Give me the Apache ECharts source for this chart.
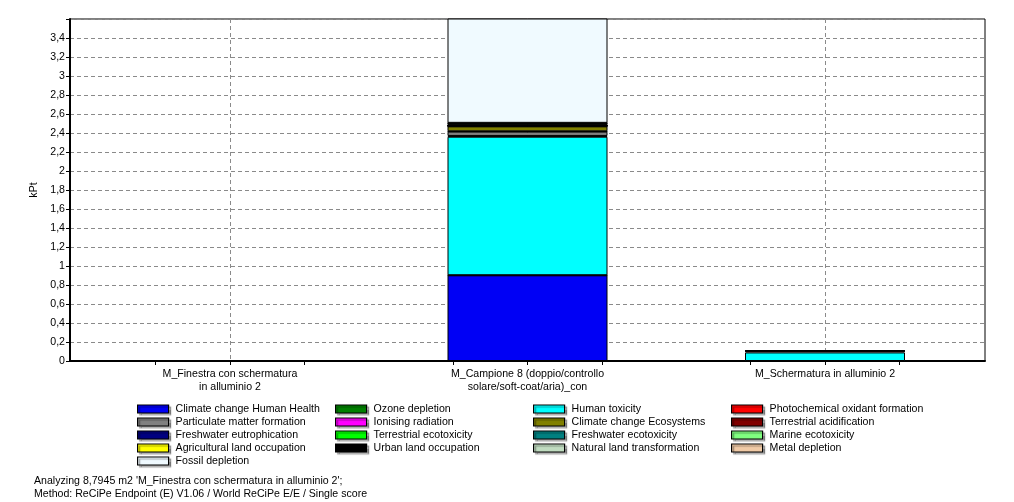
<!DOCTYPE html>
<html><head><meta charset="utf-8">
<script src="https://cdn.jsdelivr.net/npm/echarts@6/dist/echarts.min.js"></script>
<style>html,body{margin:0;padding:0;background:#fff}#c{width:1014px;height:502px}</style>
</head><body><div id="c"></div>
<script>
// ---- data ----
const categories = [
  "M_Finestra con schermatura\nin alluminio 2",
  "M_Campione 8 (doppio/controllo\nsolare/soft-coat/aria)_con",
  "M_Schermatura in alluminio 2"
];
const impactNames = [
  "Climate change Human Health", "Ozone depletion", "Human toxicity",
  "Photochemical oxidant formation", "Particulate matter formation", "Ionising radiation",
  "Climate change Ecosystems", "Terrestrial acidification", "Freshwater eutrophication",
  "Terrestrial ecotoxicity", "Freshwater ecotoxicity", "Marine ecotoxicity",
  "Agricultural land occupation", "Urban land occupation", "Natural land transformation",
  "Metal depletion", "Fossil depletion"
];
const impactColors = [
  "#0000f5", "#008000", "#00ffff", "#ff0000", "#808080", "#ff00ff",
  "#808000", "#800000", "#000080", "#00ff00", "#008080", "#80ff80",
  "#ffff00", "#000000", "#c0dcc0", "#f0caa6", "#f0faff"
];
// values in kPt for the three products
const climateChangeHumanHealth = [0, 0.902, 0];
const ozoneDepletion = [0, 0.001, 0];
const humanToxicity = [0, 1.458, 0.09];
const photochemicalOxidantFormation = [0, 0.008, 0.02];
const particulateMatterFormation = [0, 0.045, 0];
const ionisingRadiation = [0, 0.004, 0];
const climateChangeEcosystems = [0, 0.052, 0];
const terrestrialAcidification = [0, 0.003, 0];
const freshwaterEutrophication = [0, 0.002, 0];
const terrestrialEcotoxicity = [0, 0.001, 0];
const freshwaterEcotoxicity = [0, 0.002, 0];
const marineEcotoxicity = [0, 0.002, 0];
const agriculturalLandOccupation = [0, 0.003, 0];
const urbanLandOccupation = [0, 0.018, 0];
const naturalLandTransformation = [0, 0.002, 0];
const metalDepletion = [0, 0.004, 0];
const fossilDepletion = [0, 1.2, 0];
const impactValues = [
  climateChangeHumanHealth, ozoneDepletion, humanToxicity, photochemicalOxidantFormation,
  particulateMatterFormation, ionisingRadiation, climateChangeEcosystems, terrestrialAcidification,
  freshwaterEutrophication, terrestrialEcotoxicity, freshwaterEcotoxicity, marineEcotoxicity,
  agriculturalLandOccupation, urbanLandOccupation, naturalLandTransformation, metalDepletion,
  fossilDepletion
];
const legendColumns = [
  ["Climate change Human Health", "Particulate matter formation", "Freshwater eutrophication", "Agricultural land occupation", "Fossil depletion"],
  ["Ozone depletion", "Ionising radiation", "Terrestrial ecotoxicity", "Urban land occupation"],
  ["Human toxicity", "Climate change Ecosystems", "Freshwater ecotoxicity", "Natural land transformation"],
  ["Photochemical oxidant formation", "Terrestrial acidification", "Marine ecotoxicity", "Metal depletion"]
];
const footerLines = [
  "Analyzing 8,7945 m2 'M_Finestra con schermatura in alluminio 2';",
  "Method: ReCiPe Endpoint (E) V1.06 / World ReCiPe E/E / Single score"
];
const yAxisName = "kPt";

// ---- chart ----
const FONT = 'Liberation Sans';
const FS = 10.6;
const chart = echarts.init(document.getElementById('c'), null, {renderer: 'canvas'});
const xMin = -0.5378, xMax = 2.5378;
const dash = {type: [4, 3], color: '#8a8a8a', width: 1};
const legendLeft = [137, 335, 533, 731];

const series = impactNames.map((name, i) => ({
  name, type: 'bar', stack: 'total', barWidth: 160, xAxisIndex: 2, yAxisIndex: 1,
  data: impactValues[i],
  itemStyle: {color: impactColors[i], borderColor: '#000', borderWidth: 1},
  emphasis: {disabled: true}
}));

chart.setOption({
  animation: false,
  textStyle: {fontFamily: FONT},
  title: {
    text: footerLines.join('\n'), left: 34, top: 474.5, padding: 0,
    textStyle: {fontFamily: FONT, fontSize: FS, fontWeight: 'normal', color: '#000', lineHeight: 13}
  },
  grid: [
    {left: 70, right: 29, top: 19, bottom: 141, show: true, borderColor: '#000', borderWidth: 1, backgroundColor: 'transparent'},
    {left: 81.25, right: 40.25, top: 19, bottom: 141, show: false}
  ],
  legend: legendColumns.map((names, i) => ({
    data: names, orient: 'vertical', left: legendLeft[i], top: 402.5, padding: 0,
    itemWidth: 31, itemHeight: 8, itemGap: 0, icon: 'rect', selectedMode: false,
    itemStyle: {borderColor: '#000', borderWidth: 1.2, shadowColor: 'rgba(0,0,0,0.35)', shadowOffsetX: 2, shadowOffsetY: 2, shadowBlur: 1},
    textStyle: {fontFamily: FONT, fontSize: FS, color: '#000', lineHeight: 13, padding: [0, 0, 0, 2]}
  })),
  xAxis: [
    {
      gridIndex: 0, type: 'value', min: xMin, max: xMax,
      axisLine: {show: true, onZero: false, lineStyle: {color: '#000', width: 2}},
      axisTick: {show: true, length: 4, customValues: [-0.25, 0, 0.25, 0.75, 1, 1.25, 1.75, 2, 2.25], lineStyle: {color: '#000'}},
      axisLabel: {customValues: [0, 1, 2], formatter: v => categories[Math.round(v)] || '', fontFamily: FONT, fontSize: FS, color: '#000', lineHeight: 13, margin: 7},
      splitLine: {show: false}
    },
    {
      gridIndex: 0, type: 'value', min: xMin, max: xMax, position: 'bottom',
      axisLine: {show: false}, axisLabel: {show: false},
      axisTick: {show: false, customValues: [0, 1, 2]},
      splitLine: {show: true, lineStyle: dash}
    },
    {
      gridIndex: 1, type: 'category', data: categories, boundaryGap: true,
      axisLine: {show: false}, axisTick: {show: false}, axisLabel: {show: false}, splitLine: {show: false}
    }
  ],
  yAxis: [
    {
      gridIndex: 0, type: 'value', min: 0, max: 3.6, interval: 0.2,
      name: yAxisName, nameLocation: 'middle', nameGap: 27, nameRotate: 90,
      nameTextStyle: {fontFamily: FONT, fontSize: FS, color: '#000'},
      axisLine: {show: true, onZero: false, lineStyle: {color: '#000', width: 2}},
      axisTick: {show: true, length: 4, lineStyle: {color: '#000'}},
      axisLabel: {
        fontFamily: FONT, fontSize: FS, color: '#000', margin: 5,
        formatter: v => v > 3.5 ? '' : String(Math.round(v * 10) / 10).replace('.', ',')
      },
      splitLine: {show: true, lineStyle: dash}
    },
    {
      gridIndex: 1, type: 'value', min: 0, max: 3.6, interval: 0.2,
      axisLine: {show: false}, axisTick: {show: false}, axisLabel: {show: false}, splitLine: {show: false}
    }
  ],
  series
});
</script></body></html>
